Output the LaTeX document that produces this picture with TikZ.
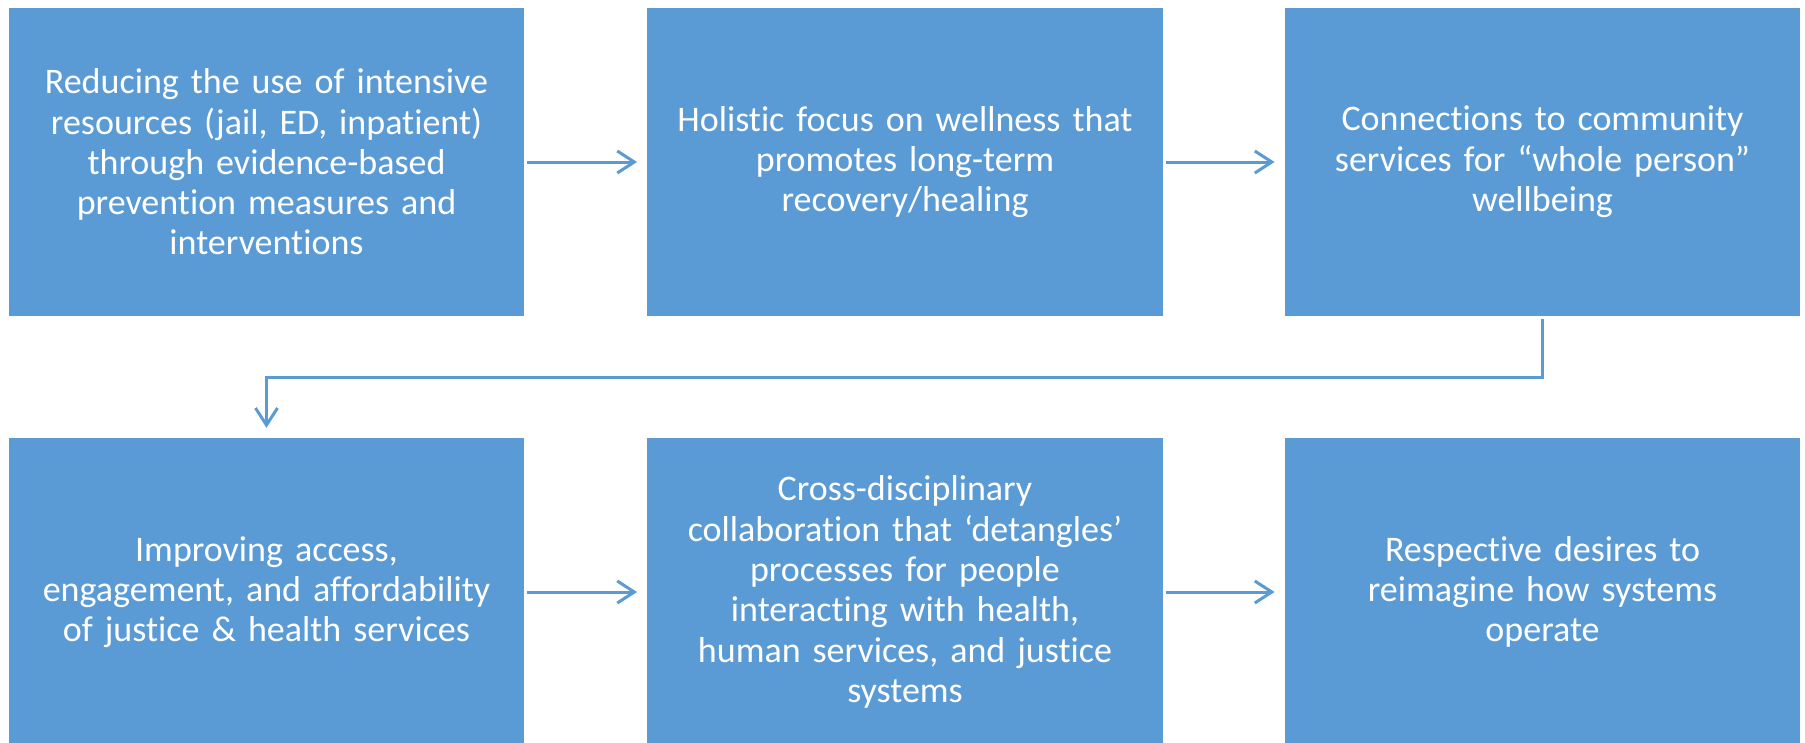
\documentclass[tikz,border=0pt]{standalone}
\usepackage{fontspec}
\setmainfont{Carlito}[Ligatures=NoCommon]
\usetikzlibrary{arrows.meta}
\definecolor{boxblue}{RGB}{91,155,213}
\tikzset{
  x=1pt, y=1pt,
  stepbox/.style={rectangle, fill=boxblue, inner sep=0pt, minimum width=515.5pt, minimum height=308pt,
    text=white, text width=500pt, align=center, font=\fontsize{36}{40.3}\selectfont},
  conn/.style={draw=boxblue, line width=3pt, -{Straight Barb[length=17pt,width=22pt]}}
}
\begin{document}
\begin{tikzpicture}
\clip (0,0) rectangle (1805,-742);
\fill[white] (0,0) rectangle (1805,-742);
\node[stepbox] (b1) at (266.5,-162) {Reducing the use of intensive\\resources (jail, ED, inpatient)\\through evidence-based\\prevention measures and\\interventions};
\node[stepbox] (b2) at (905,-162) {Holistic focus on wellness that\\promotes long-term\\recovery/healing};
\node[stepbox] (b3) at (1542.5,-162) {Connections to community\\services for “whole person”\\wellbeing};
\node[stepbox] (b4) at (266.5,-592) {Improving access,\\engagement, and affordability\\of justice \& health services};
\node[stepbox] (b5) at (905,-592) {Cross-disciplinary\\collaboration that ‘detangles’\\processes for people\\interacting with health,\\human services, and justice\\systems};
\node[stepbox] (b6) at (1542.5,-592) {Respective desires to\\reimagine how systems\\operate};
\draw[conn, shorten <=3pt, shorten >=10pt] (b1) -- (b2);
\draw[conn, shorten <=3pt, shorten >=10pt] (b2) -- (b3);
\draw[conn, shorten <=3pt, shorten >=10pt] (b4) -- (b5);
\draw[conn, shorten <=3pt, shorten >=10pt] (b5) -- (b6);
\draw[conn, shorten <=3pt, shorten >=10pt] (b3.south) -- ++(0,-61) -| (b4);
\end{tikzpicture}
\end{document}
